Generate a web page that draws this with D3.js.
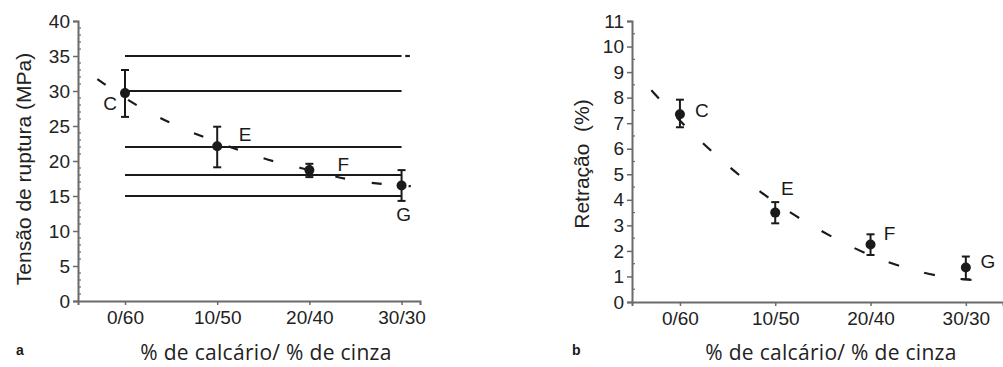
<!DOCTYPE html>
<html>
<head>
<meta charset="utf-8">
<script src="https://cdn.jsdelivr.net/npm/d3@7/dist/d3.min.js"></script>
<style>
  html, body { margin: 0; padding: 0; background: #fff; }
  svg { display: block; }
</style>
</head>
<body>
<svg id="fig" width="1003" height="367"></svg>
<script>
// Mixes (% limestone / % ash)
const categories = ["0/60", "10/50", "20/40", "30/30"];
const pointLabels = ["C", "E", "F", "G"];

// (a) flexural strength, MPa
const strengthMean = [29.7, 22.1, 18.7, 16.5];
const strengthLow  = [26.3, 19.1, 17.7, 14.3];
const strengthHigh = [33.0, 24.9, 19.6, 18.7];
const strengthRefLines = [35, 30, 22, 18, 15];
const strengthTrendX = [-0.30, 0.0, 0.5, 1.0, 1.5, 2.0, 2.5, 3.0, 3.1];
const strengthTrendY = [31.7, 29.0, 25.4, 22.7, 20.4, 18.7, 17.2, 16.5, 16.4];
const strengthTicks = [0, 5, 10, 15, 20, 25, 30, 35, 40];

// (b) shrinkage, %
const shrinkMean = [7.35, 3.5, 2.25, 1.35];
const shrinkLow  = [6.84, 3.08, 1.84, 0.89];
const shrinkHigh = [7.92, 3.91, 2.65, 1.78];
const shrinkTrendX = [-0.30, 0.0, 0.5, 1.0, 1.5, 2.0, 2.5, 3.0, 3.22];
const shrinkTrendY = [8.29, 7.1, 5.35, 3.9, 2.75, 1.83, 1.2, 0.88, 0.84];
const shrinkTicks = [0, 1, 2, 3, 4, 5, 6, 7, 8, 9, 10, 11];

const svg = d3.select("#fig");
const INK = "#1a1a1a";
const AXIS = "#6a6a6a";
const SANS = "'Liberation Sans', Arial, sans-serif";
const HUM = "'Open Sans', 'Noto Sans', sans-serif";

function panel(cfg) {
  const g = svg.append("g");
  const x = d3.scaleLinear().domain(cfg.xDomain).range(cfg.xRange);
  const y = d3.scaleLinear().domain(cfg.yDomain).range(cfg.yRange);
  const x0 = cfg.xRange[0], y0 = cfg.yRange[0];

  // y axis: major ticks outside, minor ticks inside
  const yAxis = d3.axisLeft(y).tickValues(cfg.yTicks).tickSize(5).tickPadding(3).tickFormat(d3.format("d"));
  const ya = g.append("g").attr("transform", `translate(${x0},0)`).call(yAxis);
  ya.select(".domain").attr("stroke", AXIS).attr("stroke-width", 2);
  ya.selectAll(".tick line").attr("stroke", AXIS).attr("stroke-width", 1.5);
  ya.selectAll(".tick text").attr("font-family", SANS).attr("font-size", 19).attr("fill", "#222");
  const minors = g.append("g");
  cfg.yMinor.forEach(v => {
    minors.append("line")
      .attr("x1", x0).attr("x2", x0 + 3)
      .attr("y1", y(v)).attr("y2", y(v))
      .attr("stroke", AXIS).attr("stroke-width", 1.2);
  });

  // x axis
  const xAxis = d3.axisBottom(x).tickValues(d3.range(categories.length))
    .tickFormat(i => categories[i]).tickSize(4).tickPadding(6);
  const xa = g.append("g").attr("transform", `translate(0,${y0})`).call(xAxis);
  xa.select(".domain").attr("stroke", AXIS).attr("stroke-width", 2);
  xa.selectAll(".tick line").attr("stroke", AXIS).attr("stroke-width", 1.5);
  xa.selectAll(".tick text").attr("font-family", SANS).attr("font-size", 19).attr("fill", "#222");

  // reference lines
  if (cfg.refLines) {
    g.selectAll(".ref").data(cfg.refLines).join("line")
      .attr("x1", x(0)).attr("x2", x(3))
      .attr("y1", d => y(d)).attr("y2", d => y(d))
      .attr("stroke", INK).attr("stroke-width", 2.2);
    g.append("line")
      .attr("x1", x(3.04)).attr("x2", x(3.09))
      .attr("y1", y(cfg.refLines[0])).attr("y2", y(cfg.refLines[0]))
      .attr("stroke", INK).attr("stroke-width", 2.2);
  }

  // dashed trend
  const trend = cfg.trendX.map((t, i) => [t, cfg.trendY[i]]);
  g.append("path").datum(trend)
    .attr("d", d3.line().x(d => x(d[0])).y(d => y(d[1])).curve(d3.curveMonotoneX))
    .attr("fill", "none").attr("stroke", INK).attr("stroke-width", 2.2)
    .attr("stroke-dasharray", cfg.dash);

  // error bars and points
  const idx = d3.range(categories.length);
  const cap = 4;
  idx.forEach(i => {
    const cx = x(i);
    g.append("line").attr("x1", cx).attr("x2", cx)
      .attr("y1", y(cfg.low[i])).attr("y2", y(cfg.high[i]))
      .attr("stroke", INK).attr("stroke-width", 2);
    [cfg.low[i], cfg.high[i]].forEach(v => {
      g.append("line").attr("x1", cx - cap).attr("x2", cx + cap)
        .attr("y1", y(v)).attr("y2", y(v))
        .attr("stroke", INK).attr("stroke-width", 2);
    });
    g.append("circle").attr("cx", cx).attr("cy", y(cfg.mean[i])).attr("r", 5).attr("fill", INK);
    g.append("text")
      .attr("x", cx + cfg.labelOffsets[i][0]).attr("y", y(cfg.mean[i]) + cfg.labelOffsets[i][1])
      .attr("font-family", SANS).attr("font-size", 19).attr("fill", INK)
      .attr("text-anchor", "middle").attr("dominant-baseline", "central")
      .text(pointLabels[i]);
  });

  // titles
  g.append("text")
    .attr("transform", `translate(${cfg.yTitlePos[0]},${cfg.yTitlePos[1]}) rotate(-90)`)
    .attr("text-anchor", "middle").attr("font-family", SANS).attr("font-size", 21).attr("fill", "#222")
    .attr("xml:space", "preserve")
    .text(cfg.yTitle);
  g.append("text")
    .attr("x", cfg.xTitlePos[0]).attr("y", cfg.xTitlePos[1])
    .attr("text-anchor", "middle").attr("font-family", HUM).attr("font-size", 21).attr("fill", "#222")
    .attr("letter-spacing", 0.3)
    .text("% de calcário/ % de cinza");
  g.append("text")
    .attr("x", cfg.tagPos[0]).attr("y", cfg.tagPos[1])
    .attr("font-family", SANS).attr("font-weight", "bold").attr("font-size", 14).attr("fill", INK)
    .text(cfg.tag);
}

panel({
  xDomain: [-0.51, 3.2], xRange: [78, 420],
  yDomain: [0, 40], yRange: [301, 21],
  yTicks: strengthTicks,
  yMinor: d3.range(0, 41).filter(v => v % 5 !== 0),
  mean: strengthMean, low: strengthLow, high: strengthHigh,
  refLines: strengthRefLines,
  trendX: strengthTrendX, trendY: strengthTrendY, dash: "10,27",
  labelOffsets: [[-15, 10], [28, -12], [34, -6], [2, 29]],
  yTitle: "Tensão de ruptura (MPa)", yTitlePos: [31, 169],
  xTitlePos: [266, 360], tag: "a", tagPos: [16, 355]
});

panel({
  xDomain: [-0.503, 3.39], xRange: [632, 1003],
  yDomain: [0, 11], yRange: [302, 21],
  yTicks: shrinkTicks,
  yMinor: d3.range(0.5, 11, 1),
  mean: shrinkMean, low: shrinkLow, high: shrinkHigh,
  refLines: null,
  trendX: shrinkTrendX, trendY: shrinkTrendY, dash: "11,26",
  labelOffsets: [[22, -4], [12, -24], [19, -11], [22, -6]],
  yTitle: "Retração  (%)", yTitlePos: [589, 164],
  xTitlePos: [831, 360], tag: "b", tagPos: [572, 355]
});
</script>
</body>
</html>
